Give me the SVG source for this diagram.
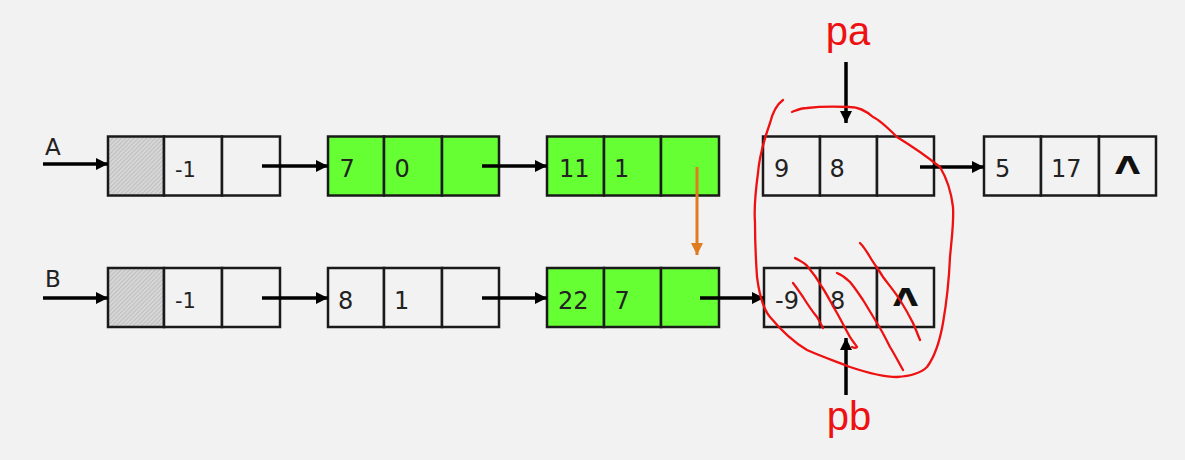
<svg xmlns="http://www.w3.org/2000/svg" width="1185" height="460" viewBox="0 0 1185 460">
<style>
.cell{fill:#f2f2f2;stroke:#1a1a1a;stroke-width:2.5}
.g{fill:#66ff33}
.h{fill:url(#hatch)}
.t{font-family:"DejaVu Sans",Verdana,sans-serif;font-size:24px;fill:#222}
.t.s{font-size:21px}
.lbl{font-family:"DejaVu Sans",Verdana,sans-serif;font-size:23px;fill:#222}
.nil{font-family:"DejaVu Sans",sans-serif;font-size:25px;font-weight:bold;fill:#111;text-anchor:middle}
.arr{stroke:#000;stroke-width:3.5;fill:none;marker-end:url(#ah)}
.red{stroke:#ee1111;stroke-width:2.3;fill:none;stroke-linecap:round;stroke-linejoin:round}
.rt{font-family:"Liberation Sans",Arial,sans-serif;font-size:40px;fill:#ee1111;text-anchor:middle}
</style>
<defs>
<marker id="ah" markerWidth="12" markerHeight="12" refX="10" refY="5" orient="auto" markerUnits="userSpaceOnUse" viewBox="0 0 10 10">
<path d="M0,0 L10,5 L0,10 z" fill="#000"/>
</marker>
<marker id="oh" markerWidth="12" markerHeight="12" refX="10" refY="5" orient="auto" markerUnits="userSpaceOnUse" viewBox="0 0 10 10">
<path d="M0,0 L10,5 L0,10 z" fill="#e07b20"/>
</marker>
<pattern id="hatch" patternUnits="userSpaceOnUse" width="3" height="3" patternTransform="rotate(45)">
<rect width="3" height="3" fill="#d6d6d6"/>
<line x1="0" y1="0" x2="0" y2="3" stroke="#b0b0b0" stroke-width="1.2"/>
</pattern>
</defs>
<rect width="1185" height="460" fill="#f2f2f2"/>

<g id="A_head">
<rect class="cell h" x="108" y="136.5" width="56" height="59"/>
<rect class="cell" x="164" y="136.5" width="58" height="59"/>
<rect class="cell" x="222" y="136.5" width="58" height="59"/>
<text class="t s" x="175" y="177">-1</text>
</g>
<g id="A1">
<rect class="cell g" x="328" y="136.5" width="56" height="59"/>
<rect class="cell g" x="384" y="136.5" width="58" height="59"/>
<rect class="cell g" x="442" y="136.5" width="57" height="59"/>
<text class="t" x="339.5" y="177">7</text>
<text class="t" x="394.5" y="177">0</text>
</g>
<g id="A2">
<rect class="cell g" x="547" y="136.5" width="57" height="59"/>
<rect class="cell g" x="604" y="136.5" width="57" height="59"/>
<rect class="cell g" x="661" y="136.5" width="58" height="59"/>
<text class="t" x="559" y="177">11</text>
<text class="t" x="614" y="177">1</text>
</g>
<g id="A3">
<rect class="cell" x="763" y="136.5" width="57" height="59"/>
<rect class="cell" x="820" y="136.5" width="57" height="59"/>
<rect class="cell" x="877" y="136.5" width="57" height="59"/>
<text class="t" x="774" y="177">9</text>
<text class="t" x="829.5" y="177">8</text>
</g>
<g id="A4">
<rect class="cell" x="984" y="136.5" width="57" height="59"/>
<rect class="cell" x="1041" y="136.5" width="58" height="59"/>
<rect class="cell" x="1099" y="136.5" width="57" height="59"/>
<text class="t" x="995" y="177">5</text>
<text class="t" x="1051" y="177">17</text>
<text class="nil" transform="translate(1127.5,174) scale(1.3,1)" x="0" y="0">Λ</text>
</g>

<g id="B_head">
<rect class="cell h" x="108" y="268" width="56" height="59"/>
<rect class="cell" x="164" y="268" width="58" height="59"/>
<rect class="cell" x="222" y="268" width="58" height="59"/>
<text class="t s" x="175" y="308">-1</text>
</g>
<g id="B1">
<rect class="cell" x="328" y="268" width="56" height="59"/>
<rect class="cell" x="384" y="268" width="58" height="59"/>
<rect class="cell" x="442" y="268" width="57" height="59"/>
<text class="t" x="338" y="308.5">8</text>
<text class="t" x="394" y="308.5">1</text>
</g>
<g id="B2">
<rect class="cell g" x="547" y="268" width="57" height="59"/>
<rect class="cell g" x="604" y="268" width="57" height="59"/>
<rect class="cell g" x="661" y="268" width="58" height="59"/>
<text class="t" x="558" y="308.5">22</text>
<text class="t" x="614.5" y="308.5">7</text>
</g>
<g id="B3">
<rect class="cell" x="764" y="268" width="56" height="59"/>
<rect class="cell" x="820" y="268" width="57" height="59"/>
<rect class="cell" x="877" y="268" width="57" height="59"/>
<text class="t" x="775" y="308.5">-9</text>
<text class="t" x="830" y="308.5">8</text>
<text class="nil" transform="translate(905.5,306) scale(1.3,1)" x="0" y="0">Λ</text>
</g>

<g id="labels">
<text class="lbl" x="45" y="155">A</text>
<text class="lbl" x="45" y="287">B</text>
<text class="rt" x="848" y="45">pa</text>
<text class="rt" x="849" y="430">pb</text>
</g>

<g id="connectors">
<line class="arr" x1="43" y1="164" x2="108" y2="164"/>
<line class="arr" x1="262" y1="166" x2="328" y2="166"/>
<line class="arr" x1="482" y1="166" x2="547" y2="166"/>
<line class="arr" x1="920" y1="167" x2="984" y2="167"/>
<line class="arr" x1="43" y1="298" x2="108" y2="298"/>
<line class="arr" x1="262" y1="298" x2="328" y2="298"/>
<line class="arr" x1="482" y1="298" x2="547" y2="298"/>
<line class="arr" x1="700" y1="298" x2="764" y2="298"/>
<line x1="697" y1="167" x2="697" y2="255" stroke="#e07b20" stroke-width="3" marker-end="url(#oh)"/>
<line class="arr" x1="846" y1="62" x2="846" y2="123"/>
<line class="arr" x1="846" y1="395" x2="846" y2="338"/>
</g>

<g id="annotation">
<path class="red" d="M783,100 C776,105 772,115 770,123 C764,140 759,160 758,173 C755,195 754,210 755,223 C755,245 756,262 757,277 C760,300 764,310 770,317 C785,335 795,343 807,350 C825,358 838,362 850,367 C865,372 882,377 897,377 C912,376 922,372 927,367 C936,355 940,340 943,323 C947,300 949,280 950,257 C952,235 954,222 953,207 C951,190 946,177 940,167 C925,155 910,145 897,137 C888,128 880,120 873,117 C865,110 857,107 850,107 C830,106 815,107 807,108 C800,108 795,111 792,112"/>
<path class="red" d="M793,283 C797,288 800,293 803,297 C808,305 812,311 817,317 C820,322 822,326 823,328"/>
<path class="red" d="M795,258 C800,261 805,263 808,267 C814,274 818,280 822,287 C828,296 832,305 837,313 C842,322 846,330 850,337 C853,342 856,345 857,347 C856,348 854,348 852,347"/>
<path class="red" d="M837,273 C842,275 846,278 850,282 C855,288 859,294 863,300 C868,308 872,315 877,323 C882,331 886,339 890,347 C895,355 899,363 903,370"/>
<path class="red" d="M860,243 C864,247 867,252 870,257 C874,264 879,270 883,277 C889,285 895,292 900,300 C905,308 909,315 913,323 C916,330 918,335 920,340"/>
</g>
</svg>
